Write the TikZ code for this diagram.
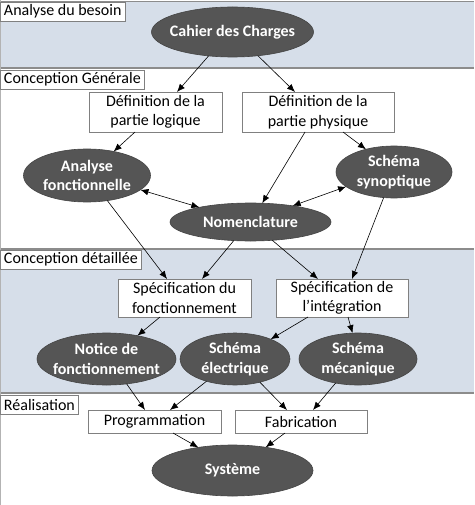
\documentclass[tikz,border=0pt]{standalone}
\usepackage{fontspec}
\setmainfont{Carlito}
\usetikzlibrary{shapes.geometric,arrows.meta}
\definecolor{bandblue}{RGB}{214,222,233}
\definecolor{bandline}{RGB}{140,140,140}
\definecolor{boxline}{RGB}{128,128,128}
\definecolor{ellfill}{RGB}{85,85,85}
\tikzset{
  ell/.style={ellipse, fill=ellfill, draw=ellfill!80!black, line width=0.6pt, text=white,
    font=\fontsize{16}{19.5}\selectfont\bfseries, align=center, inner sep=-25pt, outer sep=0pt},
  box/.style={rectangle, fill=white, draw=boxline, line width=0.9pt,
    font=\fontsize{16}{19.5}\selectfont, align=center, inner sep=0pt, outer sep=0pt},
  phase/.style={rectangle, fill=white, draw=boxline, line width=0.9pt, anchor=north west,
    font=\fontsize{16}{19}\selectfont, inner xsep=4pt, inner ysep=0pt, minimum height=19pt, outer sep=0pt},
  arr/.style={-{Latex[length=8pt,width=6.5pt]}, line width=0.6pt, black},
  darr/.style={{Latex[length=8pt,width=6.5pt]}-{Latex[length=8pt,width=6.5pt]}, line width=0.6pt, black},
}
\begin{document}
\begin{tikzpicture}[x=1pt,y=-1pt]
\useasboundingbox (0,0) rectangle (474,505);
% bands
\fill[bandblue] (0,1) rectangle (474,68);
\fill[bandblue] (0,249) rectangle (474,393);
\draw[bandline, line width=1.5pt] (0,1.5) -- (474,1.5);
\draw[bandline, line width=1.5pt] (0,68) -- (474,68);
\draw[bandline, line width=1.5pt] (0,249) -- (474,249);
\draw[bandline, line width=1.5pt] (0,393) -- (474,393);
\draw[boxline!60, line width=0.8pt] (0.4,0) -- (0.4,505);
% phase labels
\node[phase] (p1) at (0,2) {Analyse du besoin};
\node[phase] (p2) at (0,70) {Conception Générale};
\node[phase] (p3) at (0,250) {Conception détaillée};
\node[phase] (p4) at (0,395) {Réalisation};
% nodes
\node[ell, minimum width=162pt, minimum height=50pt] (cdc) at (232.5,32) {Cahier des Charges};
\node[box, minimum width=133pt, minimum height=40pt] (dl) at (155.5,112) {Définition de la\\partie logique};
\node[box, minimum width=152pt, minimum height=40pt] (dp) at (318,112) {Définition de la\\partie physique};
\node[ell, minimum width=127pt, minimum height=53pt] (af) at (87,175.5) {Analyse\\fonctionnelle};
\node[ell, minimum width=116pt, minimum height=52pt] (ss) at (394,172) {Schéma\\synoptique};
\node[ell, minimum width=161pt, minimum height=38pt] (nom) at (250.5,222) {Nomenclature};
\node[box, minimum width=133pt, minimum height=38pt] (sf) at (184.5,298) {Spécification du\\fonctionnement};
\node[box, minimum width=132pt, minimum height=38pt] (si) at (342,298) {Spécification de\\l’intégration};
\node[ell, minimum width=139pt, minimum height=52pt] (nf) at (106.5,359) {Notice de\\fonctionnement};
\node[ell, minimum width=110pt, minimum height=52pt] (se) at (235,359) {Schéma\\électrique};
\node[ell, minimum width=118pt, minimum height=52pt] (sm) at (358,359) {Schéma\\mécanique};
\node[box, minimum width=133pt, minimum height=23pt] (prog) at (154.5,421.5) {Programmation};
\node[box, minimum width=132pt, minimum height=23pt] (fab) at (301,421.5) {Fabrication};
\node[ell, minimum width=161pt, minimum height=51pt] (sys) at (232.5,470.5) {Système};
% connectors
\draw[arr] (cdc.225.6) -- ([xshift=21.5pt]dl.north);
\draw[arr] (cdc.-43.3) -- ([xshift=-23pt]dp.north);
\draw[arr] ([xshift=-20.5pt]dl.south) -- (af.42.3);
\draw[arr] ([xshift=-13pt]dp.south) -- (nom.58);
\draw[arr] ([xshift=25pt]dp.south) -- (ss.141);
\draw[darr] (af.-15.7) -- (nom.164.3);
\draw[darr] (ss.197.7) -- (nom.21.6);
\draw[arr] (af.-51.9) -- ([xshift=-17.5pt]sf.north);
\draw[arr] (nom.-132.6) -- ([xshift=17.5pt]sf.north);
\draw[arr] (nom.-40.2) -- ([xshift=-24pt]si.north);
\draw[arr] (ss.-112.9) -- ([xshift=10pt]si.north);
\draw[arr] ([xshift=-24.5pt]sf.south) -- (nf.37.3);
\draw[arr] ([xshift=-34pt]si.south) -- (se.29.6);
\draw[arr] ([xshift=6pt]si.south) -- (sm.102.5);
\draw[arr] (nf.-51.7) -- ([xshift=-9.5pt]prog.north);
\draw[arr] (se.-142.5) -- ([xshift=15.5pt]prog.north);
\draw[arr] (se.-43.8) -- ([xshift=-14pt]fab.north);
\draw[arr] (sm.-133.8) -- ([xshift=12pt]fab.north);
\draw[arr] ([xshift=18.5pt]prog.south) -- (sys.146.8);
\draw[arr] ([xshift=-16pt]fab.south) -- (sys.35.4);
\end{tikzpicture}
\end{document}
